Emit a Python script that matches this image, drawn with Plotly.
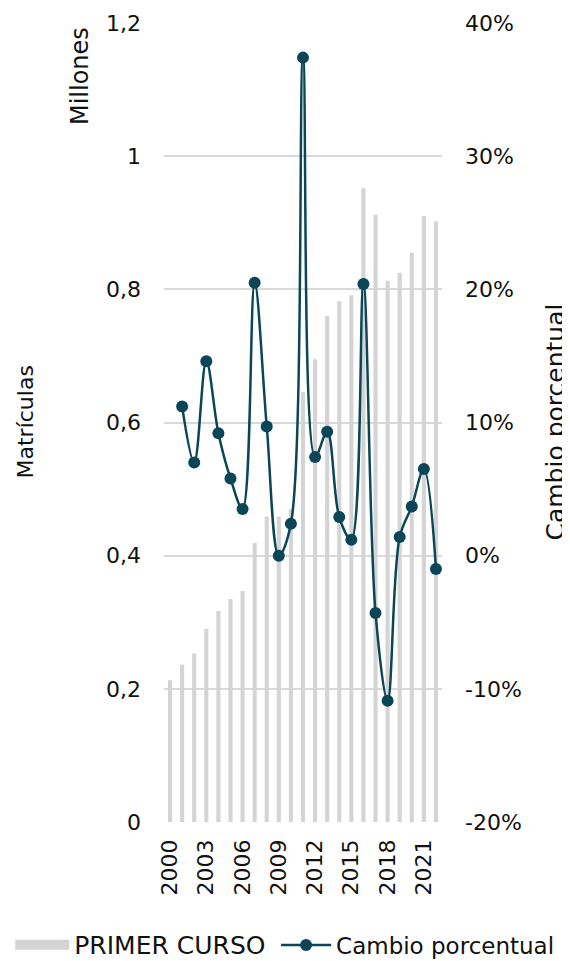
import plotly.graph_objects as go

years = list(range(2000, 2023))
primer_curso = [0.213, 0.236, 0.253, 0.290, 0.317, 0.335, 0.347, 0.419, 0.459, 0.459,
                0.470, 0.646, 0.695, 0.760, 0.782, 0.791, 0.952, 0.912, 0.813, 0.825,
                0.855, 0.910, 0.902]
change_years = list(range(2001, 2023))
cambio_pct = [11.2, 7.0, 14.6, 9.2, 5.8, 3.5, 20.5, 9.7, 0.0, 2.4,
              37.4, 7.4, 9.3, 2.9, 1.2, 20.4, -4.3, -10.9, 1.4, 3.7,
              6.5, -1.0]

x_tickvals = [2000, 2003, 2006, 2009, 2012, 2015, 2018, 2021]
y_tickvals = [0, 0.2, 0.4, 0.6, 0.8, 1.0, 1.2]
y_ticktext = ["0", "0,2", "0,4", "0,6", "0,8", "1", "1,2"]
y2_tickvals = [-20, -10, 0, 10, 20, 30, 40]
y2_ticktext = ["-20%", "-10%", "0%", "10%", "20%", "30%", "40%"]

FONT = "DejaVu Sans"
TXT = "#111111"
BAR_COLOR = "#D4D4D4"
LINE_COLOR = "#0A4658"

fig = go.Figure()
fig.add_trace(go.Bar(
    x=years, y=primer_curso, name="PRIMER CURSO",
    marker=dict(color=BAR_COLOR, line=dict(width=0)),
    width=0.34, yaxis="y", showlegend=False,
))
# legend key for the bars (wide grey block as in the original)
fig.add_trace(go.Scatter(
    x=[None], y=[None], name="PRIMER CURSO", mode="lines",
    line=dict(color=BAR_COLOR, width=16), legend="legend", showlegend=True,
    hoverinfo="skip",
))
fig.add_trace(go.Scatter(
    x=change_years, y=cambio_pct, name="Cambio porcentual",
    mode="lines+markers", yaxis="y2", legend="legend2",
    line=dict(color=LINE_COLOR, width=2.5, shape="spline", smoothing=1),
    marker=dict(color=LINE_COLOR, size=12),
))

W, H = 562, 953
fig.update_layout(
    width=W, height=H,
    margin=dict(l=156, r=128, t=15, b=139, autoexpand=False),
    paper_bgcolor="white", plot_bgcolor="white",
    font=dict(family=FONT, size=22, color=TXT),
    showlegend=True,
    legend=dict(orientation="h", xref="container", yref="container",
                x=0.004, xanchor="left", y=0.0168, yanchor="middle",
                font=dict(size=25, color=TXT), itemwidth=54),
    legend2=dict(orientation="h", xref="container", yref="container",
                 x=0.477, xanchor="left", y=0.0168, yanchor="middle",
                 font=dict(size=23, color=TXT), itemwidth=50),
    xaxis=dict(range=[1999.5, 2022.5], tickvals=x_tickvals, tickangle=-90,
               showgrid=False, zeroline=False, showline=False, ticks="",
               ticklabelstandoff=12, tickfont=dict(size=22)),
    yaxis=dict(range=[0, 1.2], tickvals=y_tickvals, ticktext=y_ticktext,
               showgrid=True, gridcolor="#D9D9D9", gridwidth=1.5,
               zeroline=False, showline=False, ticks="",
               ticklabelstandoff=22, tickfont=dict(size=22)),
    yaxis2=dict(range=[-20, 40], tickvals=y2_tickvals, ticktext=y2_ticktext,
                overlaying="y", side="right", showgrid=False, zeroline=False,
                showline=False, ticks="", ticklabelstandoff=22,
                tickfont=dict(size=22)),
    annotations=[
        dict(text="Millones", xref="paper", yref="paper",
             x=-0.302, y=0.9975, xanchor="center", yanchor="top",
             textangle=-90, showarrow=False, font=dict(size=24)),
        dict(text="Matrículas", xref="paper", yref="paper",
             x=-0.5, y=0.5, xanchor="center", yanchor="middle",
             textangle=-90, showarrow=False, font=dict(size=22)),
        dict(text="Cambio porcentual", xref="paper", yref="paper",
             x=1.4065, y=0.5, xanchor="center", yanchor="middle",
             textangle=-90, showarrow=False, font=dict(size=25)),
    ],
)

fig.write_html("out.html")
